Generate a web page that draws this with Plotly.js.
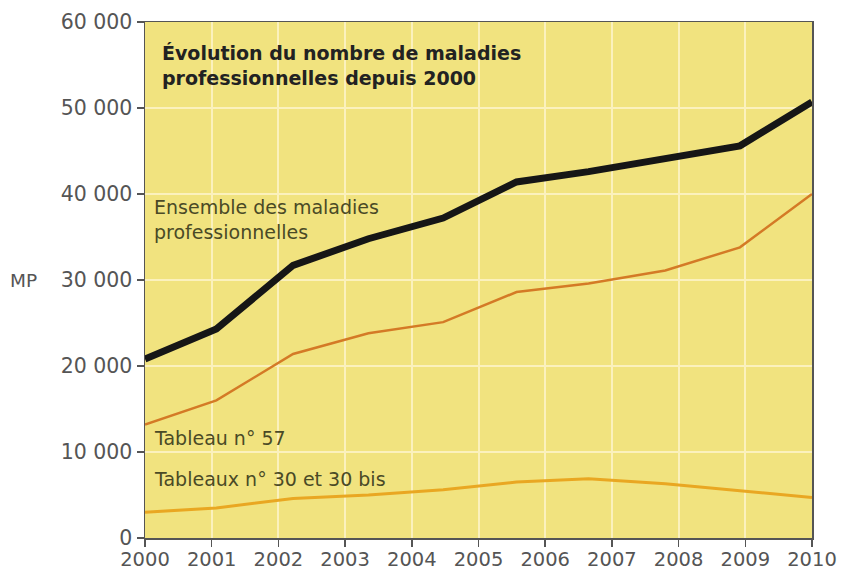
<!DOCTYPE html>
<html><head><meta charset="utf-8">
<script src="https://cdn.plot.ly/plotly-3.0.1.min.js"></script>
<style>body{margin:0;background:#fff}#c{width:841px;height:572px}</style>
</head><body><div id="c"></div>
<script>
const xPos = [2000, 2001.07, 2002.22, 2003.35, 2004.47, 2005.57, 2006.65, 2007.8, 2008.92, 2010];
const ensemble = [20800, 24300, 31700, 34800, 37200, 41400, 42600, 44200, 45600, 50700];
const tableau57 = [13200, 16000, 21400, 23800, 25100, 28600, 29600, 31100, 33800, 40000];
const tableau30 = [3000, 3500, 4600, 5000, 5600, 6500, 6900, 6300, 5500, 4700];
const xTicks = [2000,2001,2002,2003,2004,2005,2006,2007,2008,2009,2010];
const yTicks = [0,10000,20000,30000,40000,50000,60000];
const yLabels = ["0","10 000","20 000","30 000","40 000","50 000","60 000"];

const traces = [
  {x:xPos, y:tableau30, mode:'lines', line:{color:'#e9a722', width:3}, hoverinfo:'skip'},
  {x:xPos, y:tableau57, mode:'lines', line:{color:'#d47a26', width:2.5}, hoverinfo:'skip'},
  {x:xPos, y:ensemble, mode:'lines', line:{color:'#161616', width:7}, hoverinfo:'skip'}
];
const FAM = 'DejaVu Sans, Verdana, sans-serif';
const layout = {
  width:841, height:572,
  margin:{l:145, r:29, t:22, b:34},
  paper_bgcolor:'#ffffff', plot_bgcolor:'#f1e37f',
  showlegend:false,
  xaxis:{range:[2000,2010], tickvals:xTicks, ticktext:xTicks.map(String), showgrid:true, gridcolor:'#fbf1bd', gridwidth:2,
    ticks:'outside', ticklen:7, tickcolor:'#555', tickwidth:1.5, showline:true, linecolor:'#555', linewidth:1.5, mirror:true,
    tickfont:{family:FAM, size:19.5, color:'#555'}, ticklabelstandoff:-4, zeroline:false, fixedrange:true},
  yaxis:{range:[0,60000], tickvals:yTicks, ticktext:yLabels, showgrid:true, gridcolor:'#fbf1bd', gridwidth:2,
    ticks:'outside', ticklen:7, tickcolor:'#555', tickwidth:1.5, showline:true, linecolor:'#555', linewidth:1.5, mirror:true,
    tickfont:{family:FAM, size:20.5, color:'#555'}, zeroline:false, fixedrange:true},
  annotations:[
    {xref:'paper', yref:'paper', x:0.022, y:0.965, xanchor:'left', yanchor:'top', align:'left', showarrow:false,
     text:'<b>Évolution du nombre de maladies<br>professionnelles depuis 2000</b>',
     font:{family:FAM, size:19, color:'#222'}},
    {xref:'paper', yref:'paper', x:0.01, y:0.667, xanchor:'left', yanchor:'top', align:'left', showarrow:false,
     text:'Ensemble des maladies<br>professionnelles',
     font:{family:FAM, size:19, color:'#4a4a26'}},
    {xref:'paper', yref:'paper', x:0.01, y:0.193, xanchor:'left', yanchor:'middle', align:'left', showarrow:false,
     text:'Tableau n° 57',
     font:{family:FAM, size:19, color:'#4a4a26'}},
    {xref:'paper', yref:'paper', x:0.01, y:0.115, xanchor:'left', yanchor:'middle', align:'left', showarrow:false,
     text:'Tableaux n° 30 et 30 bis',
     font:{family:FAM, size:19, color:'#4a4a26'}},
    {xref:'paper', yref:'paper', x:-0.205, y:0.5, xanchor:'left', yanchor:'middle', showarrow:false,
     text:'MP', font:{family:FAM, size:18.5, color:'#555'}}
  ]
};
Plotly.newPlot('c', traces, layout, {staticPlot:true, displayModeBar:false});
</script></body></html>
